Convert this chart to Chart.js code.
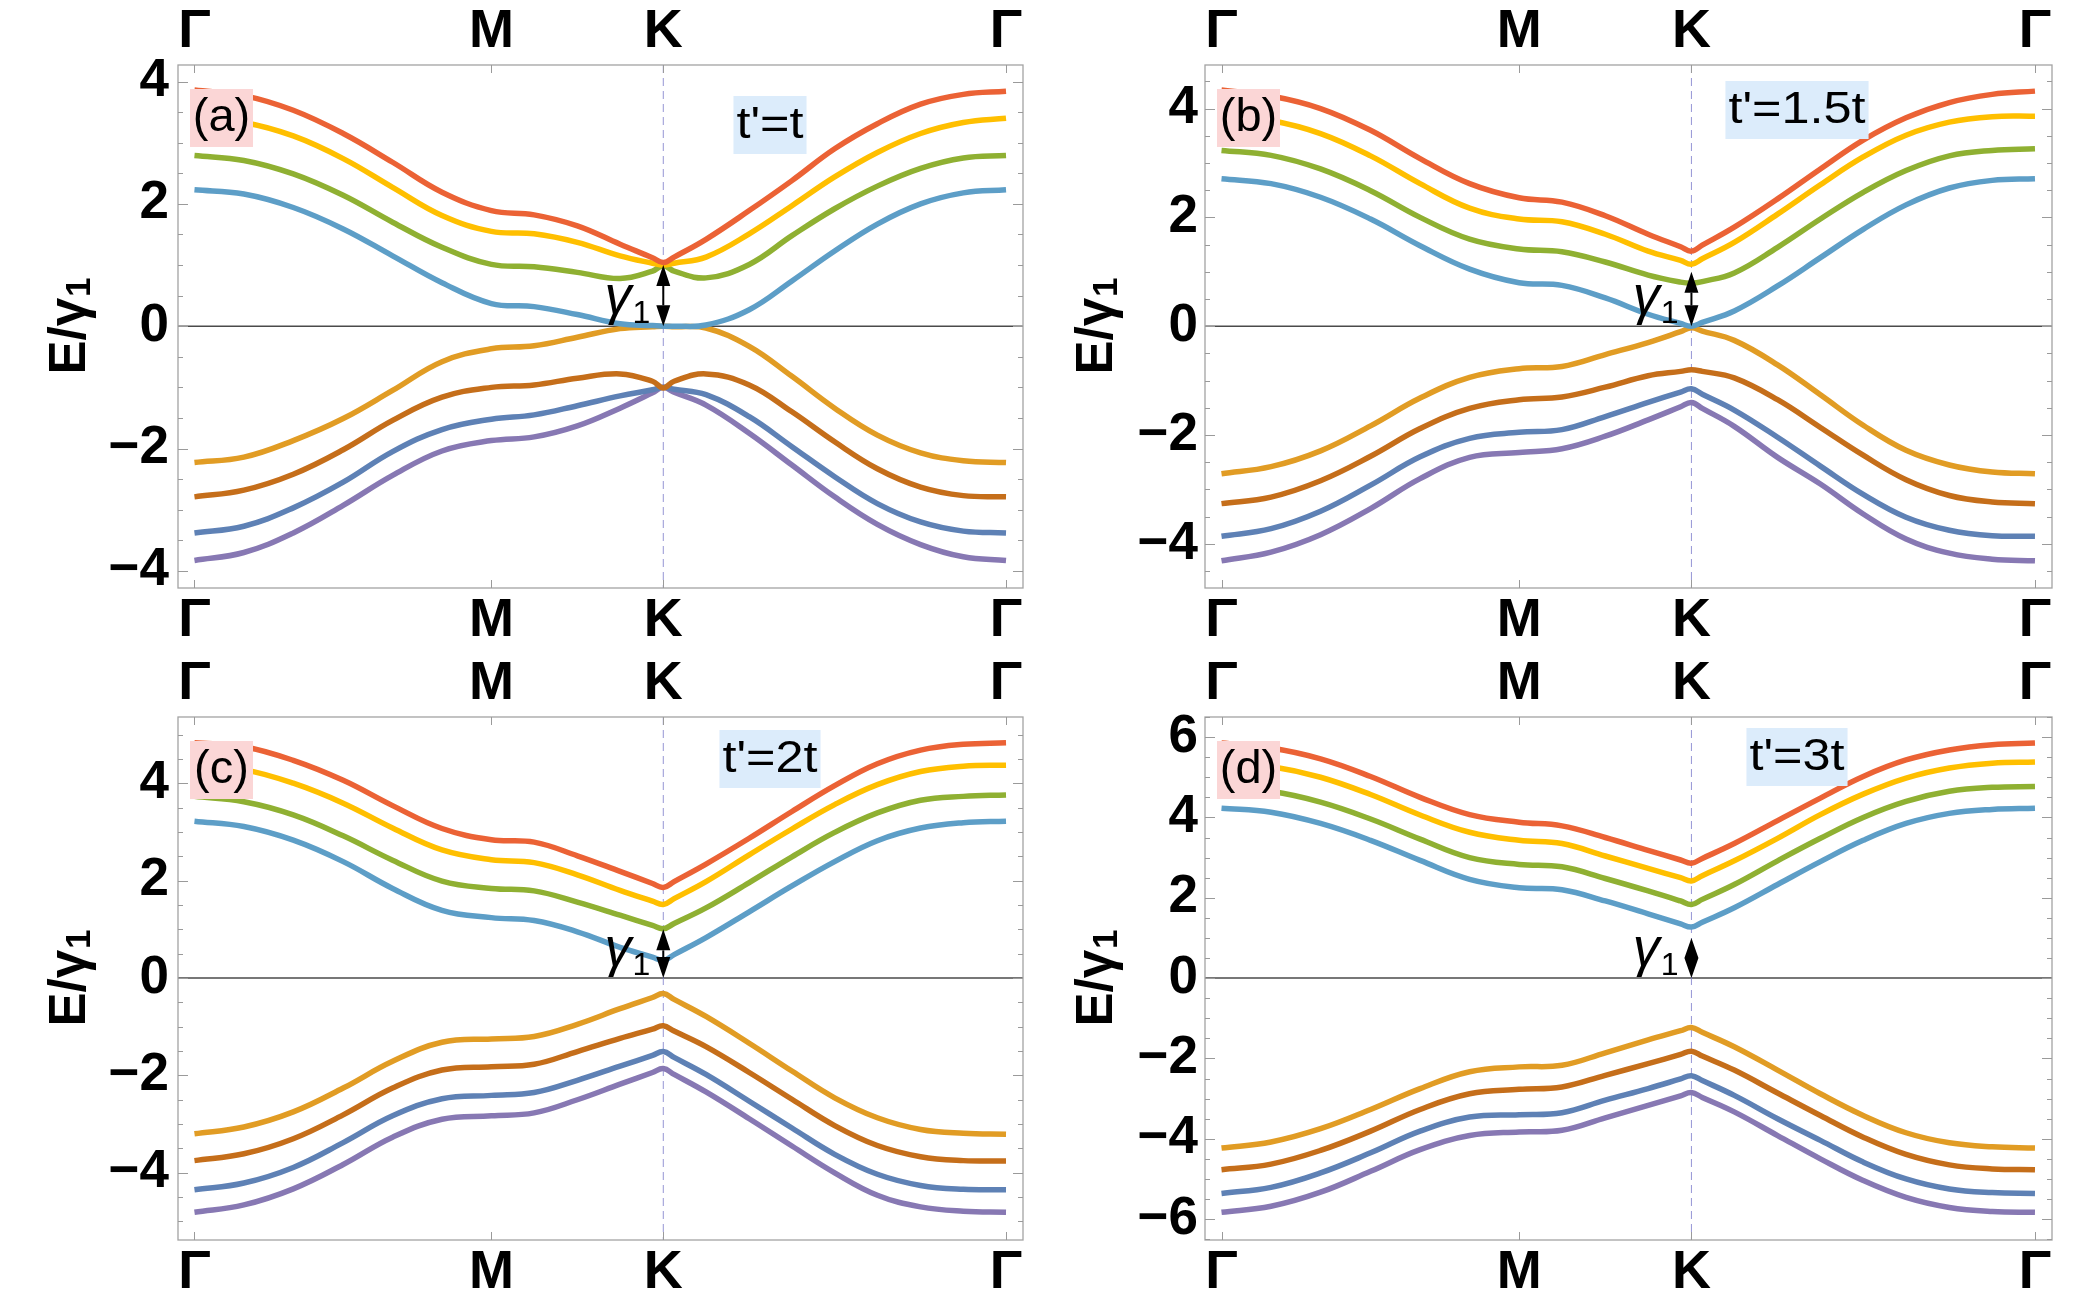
<!DOCTYPE html>
<html>
<head>
<meta charset="utf-8">
<title>Band structure, t' series</title>
<script src="https://cdn.jsdelivr.net/npm/chart.js@4.4.1/dist/chart.umd.min.js"></script>
<style>
  body { margin: 0; background: #fff; }
  #page { position: relative; width: 2084px; height: 1305px; overflow: hidden; background: #fff; }
  #page canvas { position: absolute; }
</style>
</head>
<body>
<div id="page">
  <canvas id="panelA" width="1042" height="652" style="left:0;top:0"></canvas>
  <canvas id="panelB" width="1042" height="652" style="left:1042px;top:0"></canvas>
  <canvas id="panelC" width="1042" height="653" style="left:0;top:652px"></canvas>
  <canvas id="panelD" width="1042" height="653" style="left:1042px;top:652px"></canvas>
</div>
<script>
// path coordinate along Γ-M-K-Γ
const kPath = [0, 0.096, 0.192, 0.289, 0.385, 0.481, 0.577, 0.660, 0.744, 0.827, 0.890,
  0.911, 0.932, 0.994, 1.078, 1.161, 1.244, 1.327, 1.411, 1.494, 1.577];
const kTicks = [0, 0.577, 0.911, 1.577];
const kTickLabels = ["Γ", "M", "K", "Γ"];

const yTicksA = [-4, -2, 0, 2, 4];
const yTicksB = [-4, -2, 0, 2, 4];
const yTicksC = [-4, -2, 0, 2, 4];
const yTicksD = [-6, -4, -2, 0, 2, 4, 6];

const panelTags = ["(a)", "(b)", "(c)", "(d)"];
const hopLabels = ["t'=t", "t'=1.5t", "t'=2t", "t'=3t"];
const gammaGap = 1;

// (a) t'=t
const aRed    = [3.86, 3.77, 3.53, 3.15, 2.68, 2.19, 1.89, 1.82, 1.64, 1.34, 1.12, 1.04, 1.13, 1.42, 1.89, 2.38, 2.90, 3.31, 3.63, 3.79, 3.84];
const aYellow = [3.40, 3.33, 3.11, 2.74, 2.27, 1.81, 1.55, 1.51, 1.37, 1.15, 1.03, 1.00, 1.03, 1.13, 1.51, 1.97, 2.44, 2.84, 3.15, 3.33, 3.40];
const aGreen  = [2.79, 2.71, 2.49, 2.14, 1.70, 1.29, 1.01, 0.97, 0.88, 0.78, 0.90, 0.99, 0.90, 0.79, 1.01, 1.48, 1.92, 2.29, 2.58, 2.75, 2.79];
const aBlue   = [2.23, 2.16, 1.94, 1.59, 1.15, 0.71, 0.37, 0.32, 0.19, 0.04, 0.01, 0.00, 0.00, 0.02, 0.27, 0.74, 1.23, 1.67, 2.00, 2.18, 2.23];
const aOrange = [-2.23, -2.14, -1.87, -1.51, -1.05, -0.58, -0.37, -0.32, -0.18, -0.04, -0.01, 0.00, -0.01, -0.03, -0.33, -0.82, -1.34, -1.78, -2.07, -2.20, -2.23];
const aBrown  = [-2.79, -2.68, -2.42, -2.02, -1.54, -1.16, -1.00, -0.96, -0.85, -0.78, -0.90, -1.01, -0.90, -0.78, -0.96, -1.40, -1.89, -2.33, -2.63, -2.77, -2.79];
const aNavy   = [-3.38, -3.27, -2.97, -2.55, -2.05, -1.69, -1.52, -1.45, -1.30, -1.14, -1.04, -1.00, -1.03, -1.12, -1.48, -1.97, -2.46, -2.90, -3.20, -3.35, -3.38];
const aPurple = [-3.83, -3.70, -3.38, -2.93, -2.44, -2.04, -1.87, -1.81, -1.63, -1.34, -1.09, -1.00, -1.08, -1.29, -1.75, -2.27, -2.79, -3.24, -3.57, -3.77, -3.83];

// (b) t'=1.5t
const bRed    = [4.34, 4.23, 4.00, 3.60, 3.08, 2.62, 2.36, 2.28, 2.03, 1.69, 1.46, 1.38, 1.49, 1.82, 2.34, 2.89, 3.42, 3.83, 4.11, 4.26, 4.32];
const bYellow = [3.88, 3.78, 3.54, 3.13, 2.62, 2.17, 1.97, 1.92, 1.69, 1.38, 1.21, 1.14, 1.24, 1.54, 2.06, 2.60, 3.11, 3.51, 3.75, 3.85, 3.86];
const bGreen  = [3.23, 3.14, 2.89, 2.49, 2.00, 1.60, 1.42, 1.37, 1.18, 0.94, 0.81, 0.79, 0.82, 0.98, 1.45, 1.97, 2.46, 2.86, 3.13, 3.23, 3.26];
const bBlue   = [2.71, 2.62, 2.37, 1.97, 1.48, 1.05, 0.80, 0.75, 0.52, 0.22, 0.05, 0.00, 0.07, 0.28, 0.74, 1.26, 1.78, 2.23, 2.54, 2.68, 2.71];
const bOrange = [-2.71, -2.58, -2.29, -1.83, -1.32, -0.94, -0.78, -0.74, -0.52, -0.30, -0.10, -0.03, -0.09, -0.26, -0.71, -1.26, -1.82, -2.28, -2.55, -2.68, -2.71];
const bBrown  = [-3.26, -3.14, -2.84, -2.39, -1.88, -1.51, -1.35, -1.30, -1.12, -0.91, -0.83, -0.80, -0.83, -0.95, -1.35, -1.86, -2.37, -2.82, -3.11, -3.23, -3.26];
const bNavy   = [-3.86, -3.72, -3.40, -2.92, -2.40, -2.06, -1.95, -1.90, -1.66, -1.40, -1.21, -1.15, -1.25, -1.54, -2.04, -2.57, -3.09, -3.51, -3.75, -3.85, -3.86];
const bPurple = [-4.31, -4.15, -3.83, -3.35, -2.80, -2.41, -2.32, -2.25, -2.02, -1.72, -1.48, -1.40, -1.51, -1.84, -2.41, -2.90, -3.45, -3.91, -4.17, -4.28, -4.31];

// (c) t'=2t
const cRed    = [4.83, 4.75, 4.47, 4.06, 3.54, 3.07, 2.84, 2.79, 2.51, 2.19, 1.94, 1.86, 1.98, 2.34, 2.87, 3.42, 3.95, 4.40, 4.68, 4.80, 4.83];
const cYellow = [4.37, 4.28, 4.00, 3.59, 3.08, 2.63, 2.43, 2.37, 2.12, 1.80, 1.58, 1.51, 1.63, 1.98, 2.53, 3.06, 3.56, 3.97, 4.24, 4.35, 4.37];
const cGreen  = [3.73, 3.62, 3.35, 2.92, 2.42, 1.99, 1.84, 1.79, 1.56, 1.29, 1.08, 1.01, 1.12, 1.44, 1.96, 2.49, 2.99, 3.39, 3.65, 3.73, 3.76];
const cBlue   = [3.22, 3.11, 2.83, 2.39, 1.84, 1.39, 1.24, 1.18, 0.95, 0.63, 0.43, 0.36, 0.48, 0.83, 1.36, 1.89, 2.39, 2.82, 3.08, 3.19, 3.22];
const cOrange = [-3.20, -3.06, -2.75, -2.26, -1.71, -1.32, -1.25, -1.20, -0.95, -0.63, -0.40, -0.32, -0.44, -0.79, -1.34, -1.91, -2.46, -2.87, -3.11, -3.19, -3.21];
const cBrown  = [-3.75, -3.61, -3.30, -2.81, -2.26, -1.89, -1.82, -1.77, -1.51, -1.24, -1.05, -0.98, -1.09, -1.41, -1.94, -2.49, -3.03, -3.44, -3.67, -3.75, -3.76];
const cNavy   = [-4.35, -4.21, -3.89, -3.38, -2.83, -2.48, -2.41, -2.35, -2.10, -1.81, -1.59, -1.51, -1.63, -1.98, -2.53, -3.08, -3.62, -4.03, -4.26, -4.34, -4.35];
const cPurple = [-4.81, -4.66, -4.33, -3.83, -3.27, -2.90, -2.83, -2.77, -2.50, -2.18, -1.94, -1.86, -1.98, -2.34, -2.89, -3.45, -4.00, -4.46, -4.70, -4.79, -4.81];

// (d) t'=3t
const dRed    = [5.85, 5.73, 5.46, 5.02, 4.50, 4.07, 3.88, 3.79, 3.50, 3.18, 2.94, 2.86, 2.98, 3.35, 3.92, 4.48, 5.02, 5.43, 5.68, 5.81, 5.85];
const dYellow = [5.38, 5.27, 5.00, 4.57, 4.06, 3.63, 3.43, 3.35, 3.04, 2.73, 2.50, 2.42, 2.55, 2.92, 3.48, 4.07, 4.58, 4.98, 5.23, 5.35, 5.38];
const dGreen  = [4.75, 4.65, 4.38, 3.96, 3.46, 3.00, 2.83, 2.77, 2.48, 2.17, 1.92, 1.83, 1.96, 2.33, 2.92, 3.48, 4.00, 4.40, 4.65, 4.75, 4.77];
const dBlue   = [4.23, 4.13, 3.85, 3.43, 2.93, 2.46, 2.25, 2.20, 1.92, 1.60, 1.35, 1.27, 1.39, 1.75, 2.33, 2.90, 3.43, 3.85, 4.10, 4.20, 4.23];
const dOrange = [-4.23, -4.08, -3.75, -3.27, -2.75, -2.33, -2.21, -2.17, -1.86, -1.54, -1.31, -1.23, -1.35, -1.71, -2.29, -2.88, -3.42, -3.85, -4.10, -4.20, -4.23];
const dBrown  = [-4.77, -4.63, -4.29, -3.81, -3.27, -2.88, -2.77, -2.71, -2.42, -2.13, -1.90, -1.82, -1.94, -2.29, -2.86, -3.42, -3.96, -4.39, -4.65, -4.75, -4.77];
const dNavy   = [-5.36, -5.21, -4.85, -4.35, -3.81, -3.46, -3.40, -3.35, -3.04, -2.75, -2.51, -2.43, -2.55, -2.92, -3.50, -4.04, -4.58, -5.00, -5.25, -5.34, -5.36];
const dPurple = [-5.83, -5.68, -5.33, -4.81, -4.27, -3.92, -3.83, -3.79, -3.48, -3.17, -2.93, -2.85, -2.97, -3.33, -3.92, -4.50, -5.04, -5.46, -5.71, -5.81, -5.83];

const bandColors = ["#EB6235", "#FFBF00", "#8FB032", "#5D9EC7", "#E19C24", "#C56E1A", "#5E81B5", "#8778B3"];
const FONT = "'Liberation Sans', Arial, sans-serif";
const AXIS_FONT = "'Liberation Sans Narrow', 'Liberation Sans', Arial, sans-serif";

const minus = (v) => (v < 0 ? "\u2212" + Math.abs(v) : String(v));

const decor = {
  id: "decor",
  beforeDatasetsDraw(chart) {
    const { ctx, chartArea: a, scales: { x, y } } = chart;
    ctx.save();
    const y0 = y.getPixelForValue(0);
    ctx.strokeStyle = "#4a4a4a";
    ctx.lineWidth = 1.5;
    ctx.beginPath();
    ctx.moveTo(a.left, y0);
    ctx.lineTo(a.right, y0);
    ctx.stroke();
    const xk = x.getPixelForValue(kTicks[2]);
    ctx.setLineDash([8, 5]);
    ctx.strokeStyle = "rgba(130,130,205,0.85)";
    ctx.lineWidth = 1;
    ctx.beginPath();
    ctx.moveTo(xk, a.top);
    ctx.lineTo(xk, a.bottom);
    ctx.stroke();
    ctx.restore();
  },
  afterDatasetsDraw(chart, args, o) {
    const { ctx, chartArea: a, scales: { x, y } } = chart;
    ctx.save();
    // panel tag
    ctx.fillStyle = "#fbd6d6";
    ctx.fillRect(a.left + 12, a.top + 24, 63, 58);
    ctx.fillStyle = "#000";
    ctx.font = "47px " + FONT;
    ctx.textAlign = "center";
    ctx.textBaseline = "middle";
    ctx.fillText(o.tag, a.left + 43.5, a.top + 53);

    // hopping label
    ctx.font = "45px " + FONT;
    const sx = 1.12;
    const tw = ctx.measureText(o.hop).width * sx;
    const cx = a.left + 592, cy = a.top + o.hopY;
    ctx.fillStyle = "#dcecfb";
    ctx.fillRect(cx - tw / 2 - 3, cy - 29, tw + 6, 58);
    ctx.fillStyle = "#000";
    ctx.translate(cx, cy);
    ctx.scale(sx, 1);
    ctx.fillText(o.hop, 0, 1);
    ctx.setTransform(1, 0, 0, 1, 0, 0);

    // γ1 arrow at K
    const xk = x.getPixelForValue(kTicks[2]);
    const yb = y.getPixelForValue(0), yt = y.getPixelForValue(gammaGap);
    const hl = Math.min(21, (yb - yt) / 2), hw = 7;
    ctx.strokeStyle = "#000";
    ctx.lineWidth = 2;
    ctx.beginPath();
    ctx.moveTo(xk, yt + hl);
    ctx.lineTo(xk, yb - hl);
    ctx.stroke();
    ctx.beginPath();
    ctx.moveTo(xk, yt);
    ctx.lineTo(xk - hw, yt + hl);
    ctx.lineTo(xk + hw, yt + hl);
    ctx.closePath();
    ctx.moveTo(xk, yb);
    ctx.lineTo(xk - hw, yb - hl);
    ctx.lineTo(xk + hw, yb - hl);
    ctx.closePath();
    ctx.fill();

    ctx.textAlign = "right";
    ctx.textBaseline = "alphabetic";
    ctx.font = "32px " + FONT;
    const ws = ctx.measureText("1").width;
    ctx.fillText("1", xk - 13, yb - 3);
    ctx.font = "italic 54px " + FONT;
    ctx.fillText("γ", xk - 14 - ws, yb - 12);
    ctx.restore();
  },
  afterDraw(chart) {
    const { ctx, chartArea: a, scales: { x, y } } = chart;
    ctx.save();
    ctx.strokeStyle = "#a3a3a3";
    ctx.lineWidth = 1.3;
    ctx.strokeRect(a.left, a.top, a.right - a.left, a.bottom - a.top);
    ctx.strokeStyle = "#9a9a9a";
    ctx.lineWidth = 1;
    ctx.beginPath();
    for (let v = Math.ceil(y.min * 2) / 2; v <= y.max; v += 0.5) {
      const py = Math.round(y.getPixelForValue(v)) + 0.5;
      const len = v % 2 === 0 ? 10 : 5;
      ctx.moveTo(a.left, py); ctx.lineTo(a.left + len, py);
      ctx.moveTo(a.right, py); ctx.lineTo(a.right - len, py);
    }
    kTicks.forEach((k) => {
      const px = Math.round(x.getPixelForValue(k)) + 0.5;
      ctx.moveTo(px, a.top); ctx.lineTo(px, a.top + 8);
      ctx.moveTo(px, a.bottom); ctx.lineTo(px, a.bottom - 8);
    });
    ctx.stroke();

    // y axis title E/γ1
    ctx.translate(a.left - 107, (a.top + a.bottom) / 2);
    ctx.rotate(-Math.PI / 2);
    ctx.fillStyle = "#000";
    ctx.textBaseline = "middle";
    ctx.textAlign = "left";
    const big = "bold 51px " + FONT, small = "bold 35px " + FONT;
    ctx.font = big;
    const w1 = ctx.measureText("E/γ").width;
    ctx.font = small;
    const w2 = ctx.measureText("1").width;
    const x0 = -(w1 + w2) / 2;
    ctx.font = big;
    ctx.fillText("E/γ", x0, 0);
    ctx.font = small;
    ctx.fillText("1", x0 + w1 + 1, 9);
    ctx.restore();
  },
};

const xAxis = (pos, h, pad) => ({
  type: "linear",
  position: pos,
  min: -0.032,
  max: 1.61,
  grid: { display: false, drawTicks: false },
  border: { display: false },
  afterBuildTicks: (s) => { s.ticks = kTicks.map((v) => ({ value: v })); },
  afterFit: (s) => { s.height = h; },
  ticks: {
    autoSkip: false,
    maxRotation: 0,
    padding: pad,
    color: "#000",
    font: { family: AXIS_FONT, size: 54, weight: "bold" },
    callback: (v, i) => kTickLabels[i],
  },
});

const makePanel = (id, bands, yTicks, yMin, yMax, p) => {
  new Chart(document.getElementById(id), {
    type: "line",
    data: {
      datasets: bands.map((band, i) => ({
        data: kPath.map((s, j) => ({ x: s, y: band[j] })),
        borderColor: bandColors[i],
        borderWidth: 5.5,
        pointRadius: 0,
        fill: false,
        tension: 0.4,
      })),
    },
    options: {
      responsive: false,
      devicePixelRatio: 1,
      animation: false,
      events: [],
      layout: { padding: { left: 0, right: p.padRight, top: 0, bottom: 0 } },
      plugins: {
        legend: { display: false },
        tooltip: { enabled: false },
        decor: { tag: p.tag, hop: p.hop, hopY: p.hopY },
      },
      scales: {
        x: xAxis("bottom", p.bottomH, 1),
        x2: xAxis("top", 65, 0),
        y: {
          type: "linear",
          min: yMin,
          max: yMax,
          grid: { display: false, drawTicks: false },
          border: { display: false },
          afterBuildTicks: (s) => { s.ticks = yTicks.map((v) => ({ value: v })); },
          afterFit: (s) => { s.width = p.leftW; },
          ticks: {
            autoSkip: false,
            padding: p.tickPad,
            color: "#000",
            font: { family: AXIS_FONT, size: 53, weight: "bold" },
            callback: (v) => minus(v),
          },
        },
      },
    },
    plugins: [decor],
  });
};

makePanel("panelA", [aRed, aYellow, aGreen, aBlue, aOrange, aBrown, aNavy, aPurple], yTicksA, -4.28, 4.27,
  { tag: panelTags[0], hop: hopLabels[0], hopY: 60, leftW: 178, padRight: 19, bottomH: 64, tickPad: 9 });
makePanel("panelB", [bRed, bYellow, bGreen, bBlue, bOrange, bBrown, bNavy, bPurple], yTicksB, -4.81, 4.80,
  { tag: panelTags[1], hop: hopLabels[1], hopY: 45, leftW: 163, padRight: 32, bottomH: 64, tickPad: 7 });
makePanel("panelC", [cRed, cYellow, cGreen, cBlue, cOrange, cBrown, cNavy, cPurple], yTicksC, -5.38, 5.36,
  { tag: panelTags[2], hop: hopLabels[2], hopY: 42, leftW: 178, padRight: 19, bottomH: 65, tickPad: 9 });
makePanel("panelD", [dRed, dYellow, dGreen, dBlue, dOrange, dBrown, dNavy, dPurple], yTicksD, -6.52, 6.50,
  { tag: panelTags[3], hop: hopLabels[3], hopY: 40, leftW: 163, padRight: 32, bottomH: 65, tickPad: 7 });
</script>
</body>
</html>
